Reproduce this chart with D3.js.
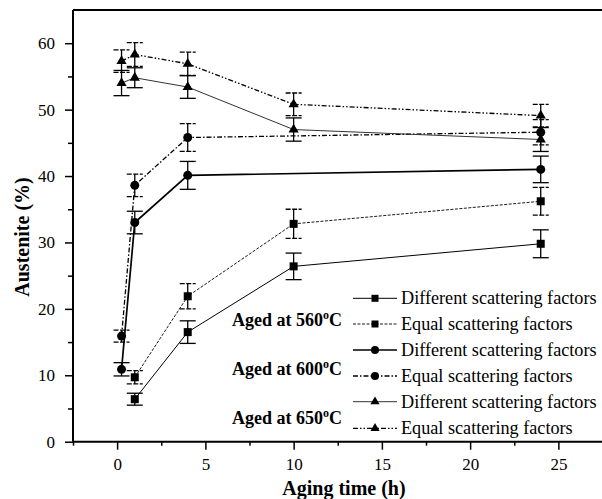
<!DOCTYPE html>
<html>
<head>
<meta charset="utf-8">
<script src="https://cdn.jsdelivr.net/npm/d3@7"></script>
<style>
  body { margin: 0; background: #fff; }
  svg text { font-family: "Liberation Serif", "Times New Roman", serif; fill: #000; }
</style>
</head>
<body>
<script>
// Austenite fraction vs aging time, six series with error bars

// Data
var timesSquare = [1, 4, 10, 24];
var timesCircle = [0.25, 1, 4, 24];
var timesTriangle = [0.25, 1, 4, 10, 24];

var sqDiffVals = [6.4, 16.5, 26.4, 29.8];
var sqDiffErr = [0.9, 1.7, 2.0, 2.1];
var sqEqualVals = [9.7, 21.9, 32.8, 36.2];
var sqEqualErr = [1.0, 1.9, 2.2, 2.1];

var ciDiffVals = [10.9, 33.0, 40.1, 41.0];
var ciDiffErr = [1.0, 1.7, 2.1, 2.0];
var ciEqualVals = [15.9, 38.6, 45.8, 46.6];
var ciEqualErr = [0.9, 1.7, 2.1, 1.9];

var trDiffVals = [54.0, 54.8, 53.4, 47.0, 45.5];
var trDiffErr = [1.9, 1.5, 1.7, 1.75, 1.8];
var trEqualVals = [57.3, 58.3, 56.9, 50.8, 49.1];
var trEqualErr = [1.7, 1.8, 1.75, 1.7, 1.7];

var xTicks = [0, 5, 10, 15, 20, 25];
var xMinor = [-2.5, 2.5, 7.5, 12.5, 17.5, 22.5, 27.5];
var yTicks = [0, 10, 20, 30, 40, 50, 60];
var yMinor = [5, 15, 25, 35, 45, 55];

var legendLabels = ["Different scattering factors", "Equal scattering factors"];
var tempLabels = ["560", "600", "650"];

// Series definitions (styles)
var series = [
    {t: timesSquare, v: sqDiffVals, e: sqDiffErr, shape: "square", dash: null, width: 1, color: "#000"},
    {t: timesSquare, v: sqEqualVals, e: sqEqualErr, shape: "square", dash: "3,1.5", width: 0.9, color: "#000"},
    {t: timesCircle, v: ciDiffVals, e: ciDiffErr, shape: "circle", dash: null, width: 1.7, color: "#000"},
    {t: timesCircle, v: ciEqualVals, e: ciEqualErr, shape: "circle", dash: "5,2,1.5,2", width: 1.3, color: "#000"},
    {t: timesTriangle, v: trDiffVals, e: trDiffErr, shape: "triangle", dash: null, width: 1, color: "#333"},
    {t: timesTriangle, v: trEqualVals, e: trEqualErr, shape: "triangle", dash: "5,2,1.5,2,1.5,2", width: 1.3, color: "#000"}
];

// Setup
var w = 602;
var h = 499;
var pLeft = 73, pRight = 602.5, pTop = 10, pBottom = 441.7;

var x = d3.scaleLinear().domain([-2.5, 27.5]).range([pLeft, pRight]);
var y = d3.scaleLinear().domain([0, 65]).range([pBottom, pTop]);

var svg = d3.select("body").append("svg")
    .attr("width", w)
    .attr("height", h);

// Axes
svg.append("g")
    .attr("transform", "translate(0," + pBottom + ")")
    .call(d3.axisBottom(x).tickValues(xTicks).tickSize(8).tickSizeOuter(0).tickPadding(8));
svg.append("g")
    .attr("transform", "translate(0," + pBottom + ")")
    .call(d3.axisBottom(x).tickValues(xMinor).tickSize(4).tickSizeOuter(0).tickFormat(""));

svg.append("g")
    .attr("transform", "translate(" + pLeft + ",0)")
    .call(d3.axisLeft(y).tickValues(yTicks).tickSize(8).tickSizeOuter(0).tickPadding(10));
svg.append("g")
    .attr("transform", "translate(" + pLeft + ",0)")
    .call(d3.axisLeft(y).tickValues(yMinor).tickSize(5).tickSizeOuter(0).tickFormat(""));

svg.selectAll(".domain").remove();
svg.selectAll(".tick line").attr("stroke", "#000").attr("stroke-width", 1.5);
svg.selectAll(".tick text")
    .attr("font-family", "'Liberation Serif', serif")
    .style("font-size", "17px");

// Frame lines
svg.append("line").attr("x1", pLeft).attr("x2", pRight).attr("y1", pBottom).attr("y2", pBottom)
    .attr("stroke", "#000").attr("stroke-width", 2);
svg.append("line").attr("x1", pLeft).attr("x2", pLeft).attr("y1", pTop).attr("y2", pBottom)
    .attr("stroke", "#000").attr("stroke-width", 2);
svg.append("line").attr("x1", pLeft).attr("x2", pRight).attr("y1", pTop).attr("y2", pTop)
    .attr("stroke", "#000").attr("stroke-width", 2);

// Axis titles
svg.append("text")
    .attr("x", 344)
    .attr("y", 495)
    .attr("text-anchor", "middle")
    .style("font-size", "20px")
    .style("font-weight", "bold")
    .text("Aging time (h)");

svg.append("text")
    .attr("transform", "translate(29,237) rotate(-90)")
    .attr("text-anchor", "middle")
    .style("font-size", "20px")
    .style("font-weight", "bold")
    .text("Austenite (%)");

// Marker drawing
function drawMarker(g, shape, cx, cy, size) {
    if (shape === "square") {
        g.append("rect")
            .attr("x", cx - size / 2).attr("y", cy - size / 2)
            .attr("width", size).attr("height", size)
            .attr("fill", "#000");
    } else if (shape === "circle") {
        g.append("circle")
            .attr("cx", cx).attr("cy", cy).attr("r", size / 2 + 0.5)
            .attr("fill", "#000");
    } else {
        var s = size + 2;
        g.append("path")
            .attr("d", d3.symbol().type(d3.symbolTriangle).size(s * s * 0.45)())
            .attr("transform", "translate(" + cx + "," + cy + ")")
            .attr("fill", "#000");
    }
}

var plot = svg.append("g");

series.forEach(function(s) {
    var pts = s.t.map(function(t, i) { return {t: t, v: s.v[i], e: s.e[i]}; });
    var g = plot.append("g");

    // connecting line
    g.append("path")
        .datum(pts)
        .attr("fill", "none")
        .attr("stroke", s.color)
        .attr("stroke-width", s.width)
        .attr("stroke-dasharray", s.dash)
        .attr("d", d3.line().x(function(d) { return x(d.t); }).y(function(d) { return y(d.v); }));

    // error bars
    pts.forEach(function(d) {
        var cx = x(d.t), y1 = y(d.v + d.e), y2 = y(d.v - d.e);
        g.append("line").attr("x1", cx).attr("x2", cx).attr("y1", y1).attr("y2", y2)
            .attr("stroke", "#000").attr("stroke-width", 1.3);
        [y1, y2].forEach(function(yy) {
            g.append("line").attr("x1", cx - 8).attr("x2", cx + 8).attr("y1", yy).attr("y2", yy)
                .attr("stroke", "#000").attr("stroke-width", 1.3)
                .attr("stroke-dasharray", s.dash ? "5,1.5" : null);
        });
    });

    pts.forEach(function(d) {
        drawMarker(g, s.shape, x(d.t), y(d.v), 8);
    });
});

// Legend
var legendRows = [298.3, 324, 350, 376, 401.7, 428.3];
var legend = svg.append("g");
series.forEach(function(s, i) {
    var ly = legendRows[i];
    legend.append("line")
        .attr("x1", 353).attr("x2", 397).attr("y1", ly).attr("y2", ly)
        .attr("stroke", s.color)
        .attr("stroke-width", s.width)
        .attr("stroke-dasharray", s.dash);
    drawMarker(legend, s.shape, 375, ly, 7);
    legend.append("text")
        .attr("x", 401)
        .attr("y", ly + 6)
        .style("font-size", "18.2px")
        .text(legendLabels[i % 2]);
});

// Temperature labels
tempLabels.forEach(function(t, i) {
    var ty = [326, 375, 424][i];
    var txt = svg.append("text")
        .attr("x", 342)
        .attr("y", ty)
        .attr("text-anchor", "end")
        .style("font-size", "18px")
        .style("font-weight", "bold");
    txt.append("tspan").text("Aged at " + t);
    txt.append("tspan").attr("dy", -7).style("font-size", "12px").text("o");
    txt.append("tspan").attr("dy", 7).text("C");
});
</script>
</body>
</html>
